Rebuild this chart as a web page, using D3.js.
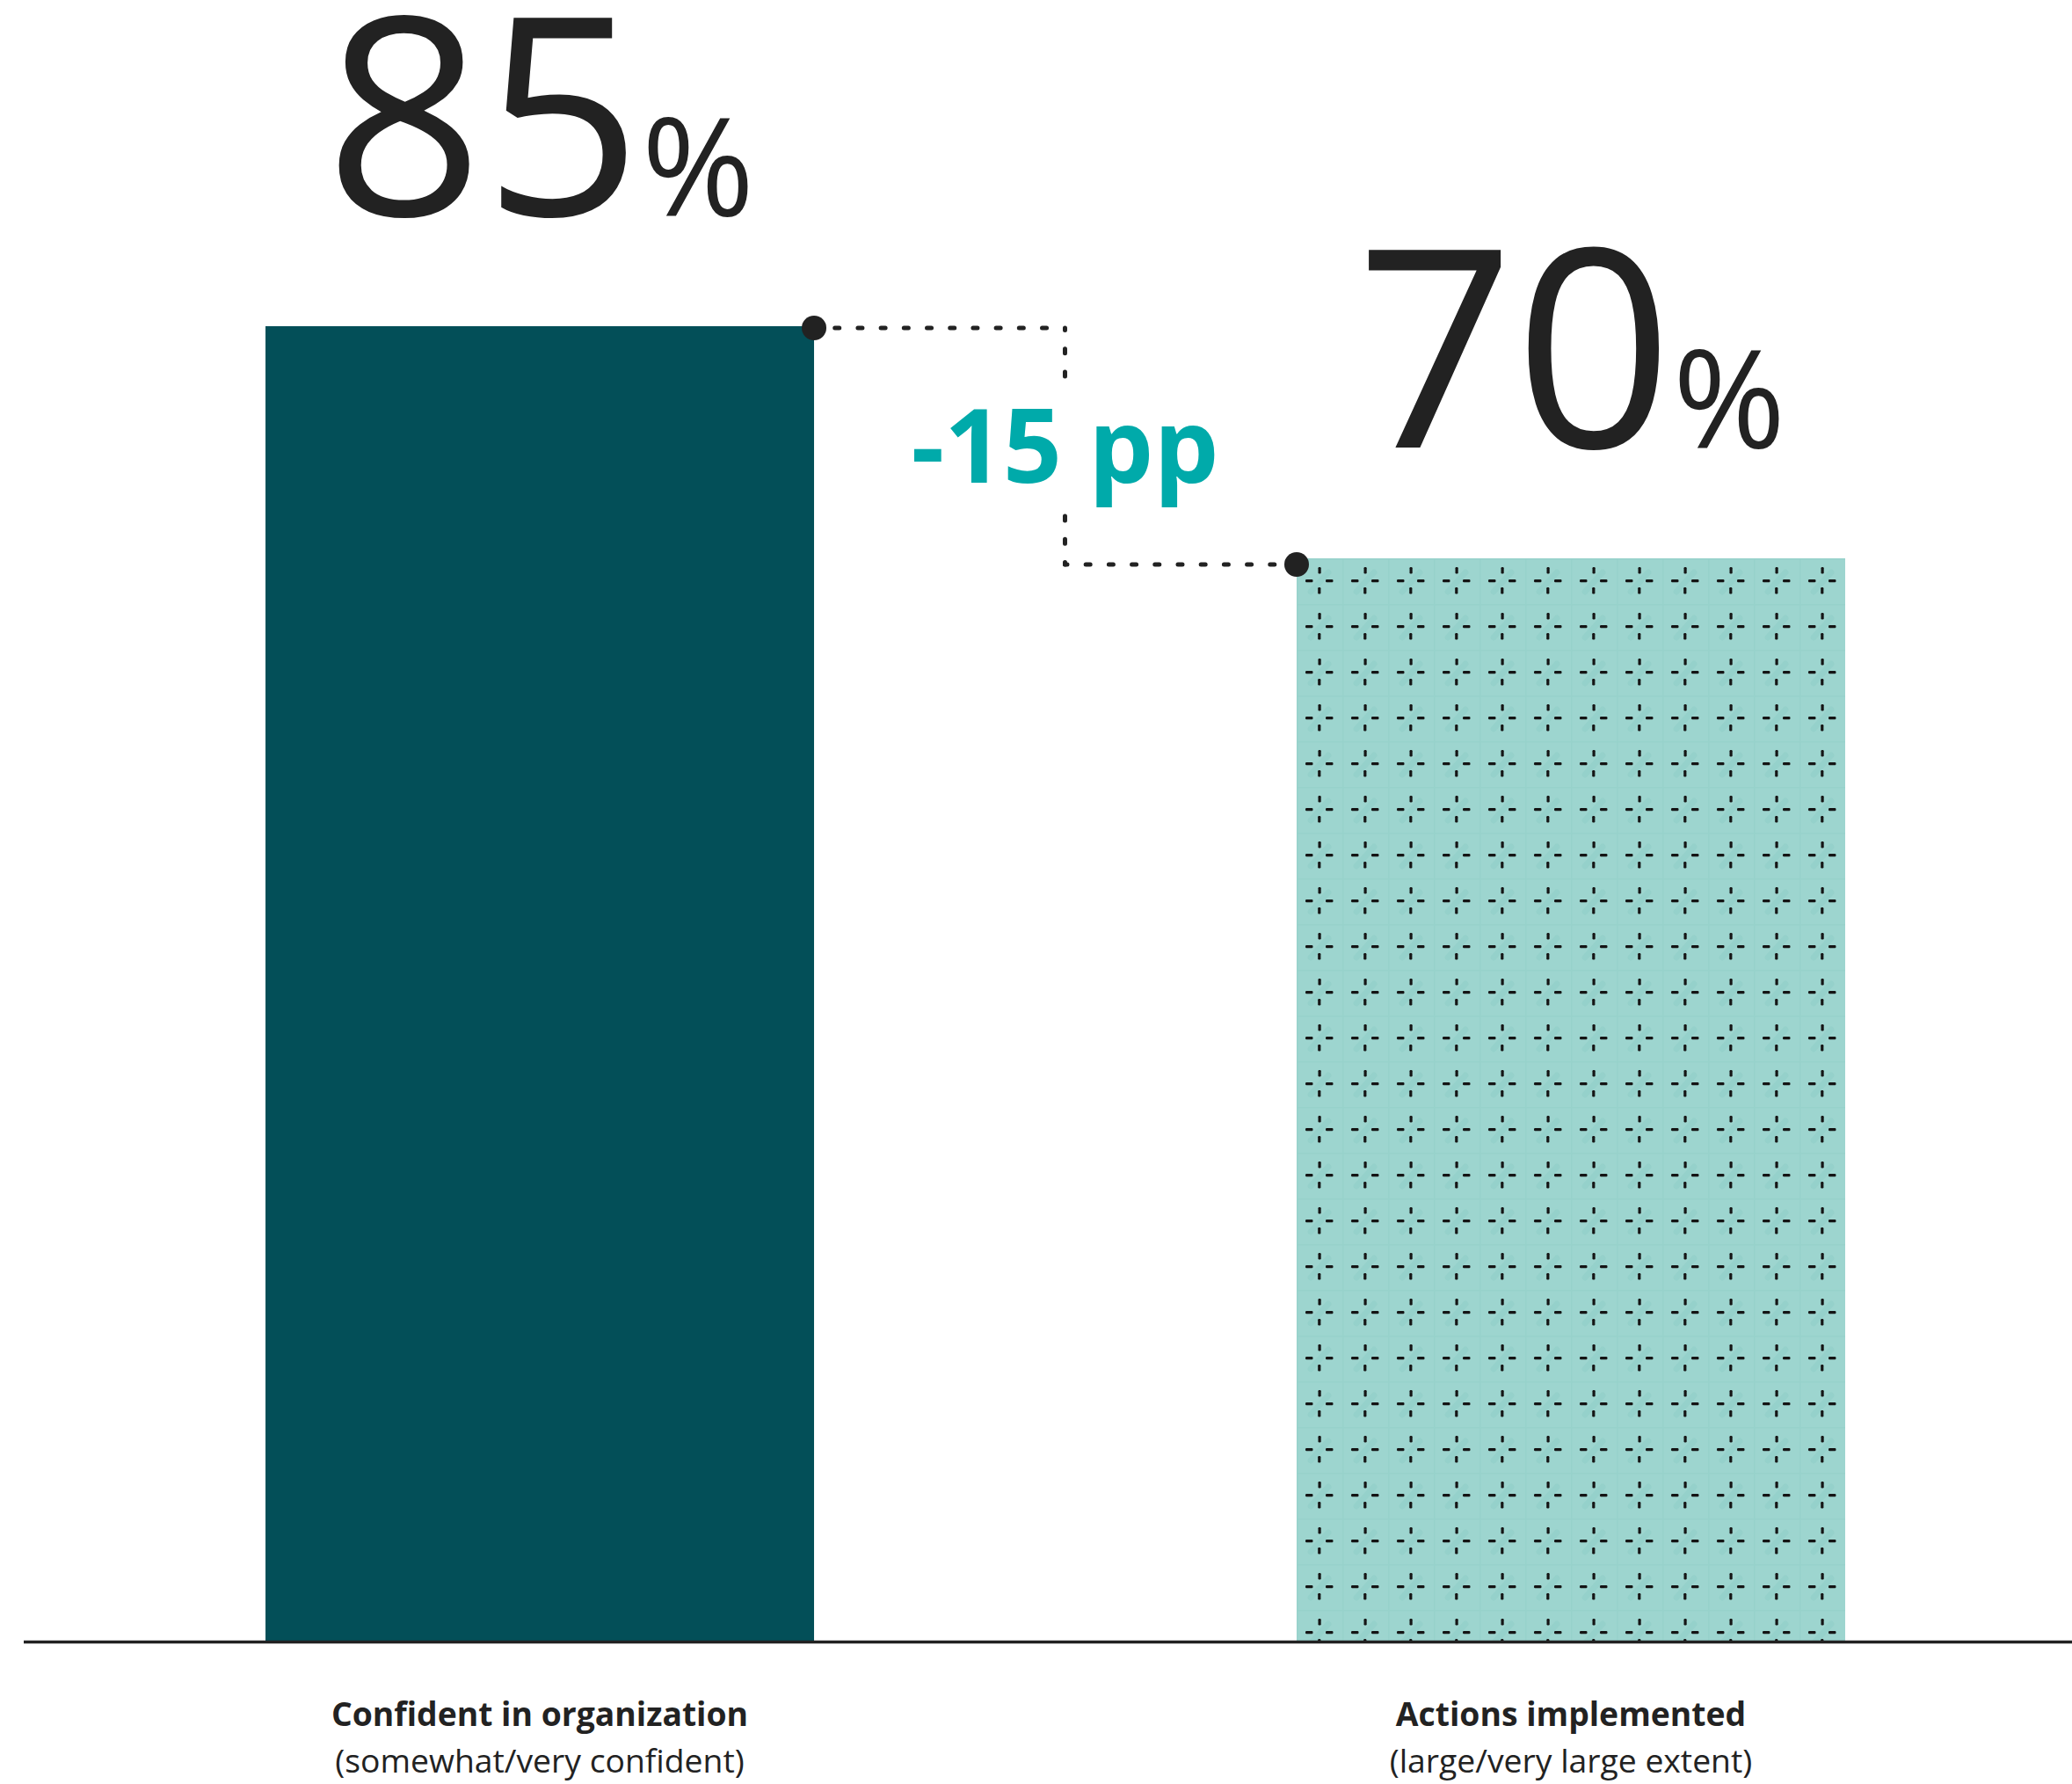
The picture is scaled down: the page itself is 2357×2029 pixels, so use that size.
<!DOCTYPE html>
<html>
<head>
<meta charset="utf-8">
<script src="https://cdn.jsdelivr.net/npm/d3@7"></script>
<style>
  html, body { margin: 0; padding: 0; background: #ffffff; }
  svg { display: block; font-family: "Open Sans", "Noto Sans", sans-serif; }
</style>
</head>
<body>
<svg id="chart" width="2357" height="2029"></svg>
<script>
// Survey shares (%)
const categories = ["Confident in organization", "Actions implemented"];
const subtitles = ["(somewhat/very confident)", "(large/very large extent)"];
const values = [85, 70];

const W = 2357, H = 2029;
const ink = "#222222";
const darkTeal = "#034f58";
const lightTeal = "#9dd5cf";
const accent = "#00aaaa";

const svg = d3.select("#chart");

const x = d3.scaleBand()
  .domain(categories)
  .range([302, 2099])
  .paddingInner(0.468)
  .paddingOuter(0);

const y = d3.scaleLinear()
  .domain([0, 100])
  .range([1867, 107]);

// Hatched tile for the second bar: light teal with a small four-dash cross
const defs = svg.append("defs");
const tile = 52;
const pat = defs.append("pattern")
  .attr("id", "crossTile")
  .attr("patternUnits", "userSpaceOnUse")
  .attr("width", tile)
  .attr("height", tile)
  .attr("x", x(categories[1]))
  .attr("y", y(values[1]));
pat.append("rect").attr("width", tile).attr("height", tile).attr("fill", lightTeal);
// faint darker streak through each cell
pat.append("path")
  .attr("d", "M16,38 L36,16")
  .attr("stroke", "#8ccbc4").attr("stroke-width", 7).attr("stroke-linecap", "round")
  .attr("opacity", 0.45);
pat.append("path")
  .attr("d", "M0,0.75 H52 M0.75,0 V52")
  .attr("stroke", "#97d2cb").attr("stroke-width", 1.5);
const dashes = [
  [24.5, 10, 3.2, 7.5],
  [24.2, 33, 3.2, 7.5],
  [10, 24, 8.5, 3.2],
  [33, 24, 8.5, 3.2]
];
pat.selectAll("rect.d").data(dashes).join("rect")
  .attr("class", "d")
  .attr("x", d => d[0]).attr("y", d => d[1])
  .attr("width", d => d[2]).attr("height", d => d[3])
  .attr("rx", 1.2)
  .attr("fill", "#141414");

const fills = [darkTeal, "url(#crossTile)"];

// Bars
svg.append("g")
  .selectAll("rect")
  .data(values)
  .join("rect")
  .attr("x", (d, i) => x(categories[i]))
  .attr("y", d => y(d))
  .attr("width", x.bandwidth())
  .attr("height", d => y(0) - y(d))
  .attr("fill", (d, i) => fills[i]);

// Baseline
svg.append("line")
  .attr("x1", 27).attr("x2", W)
  .attr("y1", y(0) + 0.5).attr("y2", y(0) + 0.5)
  .attr("stroke", ink).attr("stroke-width", 3.5);

// Category labels under the axis
const axis = d3.axisBottom(x).tickSize(0).tickPadding(0);
const gx = svg.append("g")
  .attr("transform", `translate(0,${y(0)})`)
  .call(axis);
gx.select(".domain").remove();
gx.selectAll(".tick text").each(function (d, i) {
  const t = d3.select(this);
  t.text(null)
    .attr("y", 0)
    .attr("dy", null)
    .attr("fill", ink)
    .attr("font-family", "'Open Sans', sans-serif");
  t.append("tspan")
    .attr("x", 0).attr("y", 96)
    .attr("font-size", 37.3).attr("font-weight", 700)
    .text(d);
  t.append("tspan")
    .attr("x", 0).attr("y", 149)
    .attr("font-size", 37.3).attr("font-weight", 400)
    .text(subtitles[i]);
});

// Value labels above the bars
const valueLabels = svg.append("g")
  .selectAll("text")
  .data(values)
  .join("text")
  .attr("x", (d, i) => x(categories[i]) + x.bandwidth() / 2)
  .attr("y", d => y(d) - 126)
  .attr("text-anchor", "middle")
  .attr("fill", ink);
valueLabels.append("tspan").attr("font-size", 315).text(d => d);
valueLabels.append("tspan").attr("font-size", 155).text("%");

// Step connector showing the gap between the two bar tops
const xa = x(categories[0]) + x.bandwidth();
const xb = x(categories[1]);
const xm = xa + (xb - xa) * 0.52;
const ya = y(values[0]) + 2;
const yb = y(values[1]) + 7;
const diff = values[1] - values[0];
const labelSize = 117;
const labelBase = (ya + yb) / 2 + labelSize * 0.357;
const capH = labelSize * 0.714;

const segs = [
  [xa, ya, xm, ya],
  [xm, ya, xm, labelBase - capH - 32],
  [xm, yb, xm, labelBase + 34],
  [xm, yb, xb, yb]
];
svg.append("g")
  .selectAll("line")
  .data(segs)
  .join("line")
  .attr("x1", d => d[0]).attr("y1", d => d[1])
  .attr("x2", d => d[2]).attr("y2", d => d[3])
  .attr("stroke", ink)
  .attr("stroke-width", 5)
  .attr("stroke-linecap", "round")
  .attr("stroke-dasharray", "5 21.2")
  .attr("stroke-dashoffset", 2.5);

svg.append("g")
  .selectAll("circle")
  .data([[xa, ya], [xb, yb]])
  .join("circle")
  .attr("cx", d => d[0]).attr("cy", d => d[1])
  .attr("r", 14)
  .attr("fill", ink);

svg.append("text")
  .attr("x", xm)
  .attr("y", labelBase)
  .attr("text-anchor", "middle")
  .attr("font-size", labelSize)
  .attr("font-weight", 700)
  .attr("fill", accent)
  .text(`${diff} pp`);
</script>
</body>
</html>
